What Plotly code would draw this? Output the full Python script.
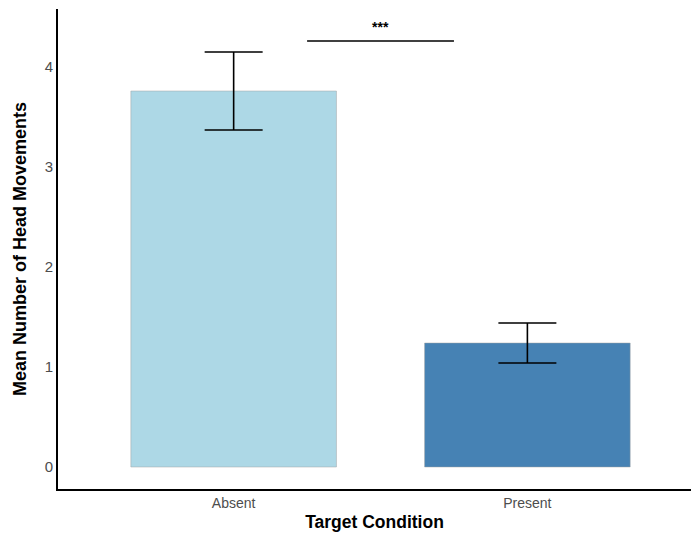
import plotly.graph_objects as go

conditions = ["Absent", "Present"]
means = [3.76, 1.24]
errors = [0.39, 0.20]
bar_colors = ["#ADD8E6", "#4682B4"]
sig_label = "***"
sig_y = 4.26

xpos = [0, 1]

fig = go.Figure()
fig.add_trace(go.Bar(
    x=xpos, y=means, width=0.7,
    marker=dict(color=bar_colors, line=dict(color="rgba(160,160,160,0.6)", width=0.8)),
    error_y=dict(type="data", array=errors, color="black", thickness=1.6, width=29),
    showlegend=False,
))

# significance bracket
fig.add_trace(go.Scatter(
    x=[0.25, 0.75], y=[sig_y, sig_y], mode="lines",
    line=dict(color="black", width=1.6), showlegend=False, hoverinfo="skip",
))
fig.add_annotation(x=0.5, y=sig_y + 0.04, text="<b>" + sig_label + "</b>", showarrow=False,
                   yanchor="bottom", font=dict(size=14, color="black"))

fig.update_layout(
    width=691, height=533,
    margin=dict(l=58, r=0, t=9, b=44),
    plot_bgcolor="white", paper_bgcolor="white",
    font=dict(family="Liberation Sans, Arial, sans-serif"),
    xaxis=dict(
        tickvals=xpos, ticktext=conditions, range=[-0.598, 1.557], automargin=False,
        showgrid=False, zeroline=False, showline=True, linecolor="black", linewidth=1.8,
        tickfont=dict(size=14, color="#4D4D4D"), ticks="",
        title=dict(text="<b>Target Condition</b>", font=dict(size=17.5, color="black"), standoff=6),
    ),
    yaxis=dict(
        range=[-0.22, 4.58], tickvals=[0, 1, 2, 3, 4], automargin=False,
        showgrid=False, zeroline=False, showline=True, linecolor="black", linewidth=1.8,
        tickfont=dict(size=15, color="#4D4D4D"), ticks="",
        title=dict(text="<b>Mean Number of Head Movements</b>", font=dict(size=18, color="black"), standoff=13),
    ),
)

fig.write_html("out.html", config={"displayModeBar": False},
               post_script="document.body.style.margin='0';document.body.style.overflow='hidden';")
